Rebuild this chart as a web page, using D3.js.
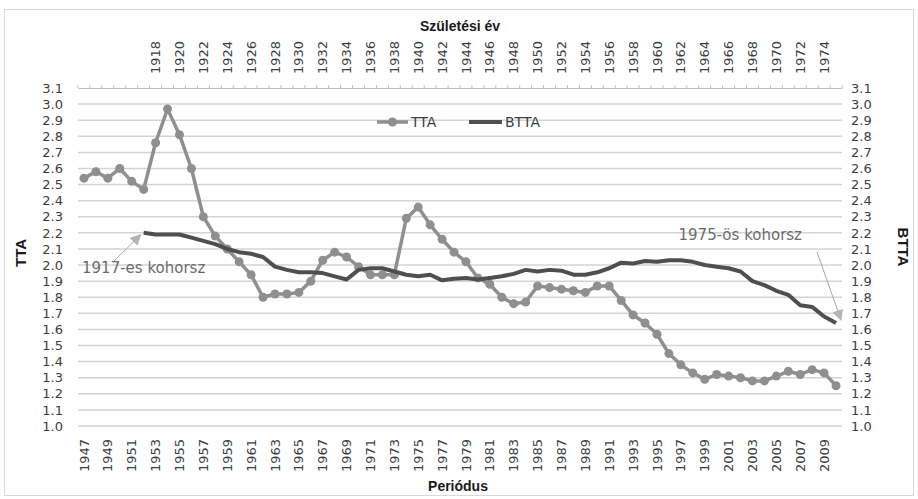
<!DOCTYPE html>
<html><head><meta charset="utf-8">
<script src="https://cdn.jsdelivr.net/npm/d3@7"></script>
<style>
html,body{margin:0;padding:0;background:#fff;}
svg{display:block;}
</style></head>
<body>
<svg id="chart" width="918" height="499"></svg>
<script>
// ---- data ----
const periods = d3.range(1947, 2011);
const tta = [2.54,2.58,2.54,2.60,2.52,2.47,2.76,2.97,2.81,2.60,
             2.30,2.18,2.10,2.02,1.94,1.80,1.82,1.82,1.83,1.90,
             2.03,2.08,2.05,1.99,1.94,1.94,1.94,2.29,2.36,2.25,
             2.16,2.08,2.02,1.92,1.88,1.80,1.76,1.77,1.87,1.86,
             1.85,1.84,1.83,1.87,1.87,1.78,1.69,1.64,1.57,1.45,
             1.38,1.33,1.29,1.32,1.31,1.30,1.28,1.28,1.31,1.34,
             1.32,1.35,1.33,1.25];
const btta = [null,null,null,null,null,
             2.20,2.19,2.19,2.19,2.17,2.15,2.13,2.10,2.08,2.07,
             2.05,1.99,1.97,1.955,1.955,1.95,1.93,1.91,1.97,1.98,
             1.98,1.96,1.94,1.93,1.94,1.905,1.915,1.92,1.91,1.92,
             1.93,1.945,1.97,1.96,1.97,1.965,1.94,1.94,1.955,1.98,
             2.015,2.01,2.025,2.02,2.03,2.03,2.02,2.00,1.99,1.98,
             1.96,1.90,1.875,1.84,1.815,1.75,1.74,1.68,1.64];
const cohortOffset = 35; // period - 35 = születési év
const yTicks = [1.0,1.1,1.2,1.3,1.4,1.5,1.6,1.7,1.8,1.9,2.0,2.1,2.2,2.3,2.4,2.5,2.6,2.7,2.8,2.9,3.0,3.1];
const bottomTickLabels = periods.filter((p,i)=>i%2===0);
const topTickLabels = periods.filter((p,i)=>i%2===0 && btta[i]!==null);
const seriesNames = ["TTA","BTTA"];

// ---- layout ----
const svg = d3.select("#chart");
const L = 78, R = 842, T = 88, B = 426;
const x = d3.scaleBand().domain(periods).range([L, R]);
const bw = x.bandwidth();
const cx = p => x(p) + bw/2;
const y = d3.scaleLinear().domain([1.0, 3.1]).range([B, T]);
const font = "'DejaVu Sans', Verdana, sans-serif";
const tickColor = "#3d3d3d";
const titleFont = "'Liberation Sans', Arial, sans-serif";

// border
svg.append("rect").attr("x",4.5).attr("y",9.5).attr("width",909).attr("height",486)
  .attr("fill","none").attr("stroke","#d9d9d9").attr("stroke-width",1);

// gridlines
svg.append("g").selectAll("line").data(yTicks.filter(v=>v<3.05)).join("line")
  .attr("x1",L).attr("x2",R).attr("y1",d=>y(d)).attr("y2",d=>y(d))
  .attr("stroke","#d4d4d4").attr("stroke-width",1.5);

// left axis
const gl = svg.append("g").attr("transform",`translate(${L},0)`)
  .call(d3.axisLeft(y).tickValues(yTicks).tickFormat(d3.format(".1f")).tickSize(0).tickPadding(15));
gl.select(".domain").remove();
gl.selectAll("text").attr("font-family",font).attr("font-size",13).attr("fill",tickColor);

// right axis
const gr = svg.append("g").attr("transform",`translate(${R},0)`)
  .call(d3.axisRight(y).tickValues(yTicks).tickFormat(d3.format(".1f")).tickSize(0).tickPadding(9));
gr.select(".domain").remove();
gr.selectAll("text").attr("font-family",font).attr("font-size",13).attr("fill",tickColor);

// bottom axis
const gb = svg.append("g").attr("transform",`translate(0,${B})`)
  .call(d3.axisBottom(x).tickValues(bottomTickLabels).tickSize(0));
gb.select(".domain").remove();
gb.selectAll("text").attr("font-family",font).attr("font-size",13).attr("fill",tickColor)
  .attr("transform","rotate(-90)").attr("text-anchor","end")
  .attr("x",-13).attr("y",0).attr("dy","0.35em");

// top axis
const gt = svg.append("g").attr("transform",`translate(0,${T})`)
  .call(d3.axisTop(x).tickValues(topTickLabels).tickFormat(p=>String(p-cohortOffset)).tickSize(0));
gt.select(".domain").attr("stroke","#bdbdbd").attr("stroke-width",1);
gt.selectAll("text").attr("font-family",font).attr("font-size",13).attr("fill",tickColor)
  .attr("transform","rotate(-90)").attr("text-anchor","start")
  .attr("x",14).attr("y",0).attr("dy","0.35em");
// top minor tick marks at category boundaries
const bounds = periods.map(p=>x(p)).concat([x(periods[periods.length-1])+bw]);
svg.append("g").selectAll("line").data(bounds).join("line")
  .attr("x1",d=>d).attr("x2",d=>d).attr("y1",T).attr("y2",T-3)
  .attr("stroke","#bdbdbd").attr("stroke-width",1);

// axis titles
svg.append("text").attr("x",460).attr("y",31).attr("text-anchor","middle")
  .attr("font-family",titleFont).attr("font-weight","bold").attr("font-size",14)
  .attr("fill","#1a1a1a").text("Születési év");
svg.append("text").attr("x",458).attr("y",491).attr("text-anchor","middle")
  .attr("font-family",titleFont).attr("font-weight","bold").attr("font-size",14)
  .attr("fill","#1a1a1a").text("Periódus");
svg.append("text").attr("transform","translate(26,253) rotate(-90)").attr("text-anchor","middle")
  .attr("font-family",titleFont).attr("font-weight","bold").attr("font-size",15)
  .attr("fill","#1a1a1a").text("TTA");
svg.append("text").attr("transform","translate(898,247) rotate(90)").attr("text-anchor","middle")
  .attr("font-family",titleFont).attr("font-weight","bold").attr("font-size",15)
  .attr("fill","#1a1a1a").text("BTTA");

// series
const ttaColor = "#8f8f8f", bttaColor = "#4f4f4f";
const line = d3.line().defined(d=>d.v!==null).x(d=>cx(d.p)).y(d=>y(d.v));
const ttaData = periods.map((p,i)=>({p, v:tta[i]}));
const bttaData = periods.map((p,i)=>({p, v:btta[i]}));

svg.append("path").datum(ttaData).attr("d",line).attr("fill","none")
  .attr("stroke",ttaColor).attr("stroke-width",3.5).attr("stroke-linejoin","round");
svg.append("g").selectAll("circle").data(ttaData).join("circle")
  .attr("cx",d=>cx(d.p)).attr("cy",d=>y(d.v)).attr("r",4.5).attr("fill",ttaColor);
svg.append("path").datum(bttaData).attr("d",line).attr("fill","none")
  .attr("stroke",bttaColor).attr("stroke-width",4).attr("stroke-linejoin","round");

// legend
const lg = svg.append("g");
lg.append("line").attr("x1",377).attr("x2",408).attr("y1",122).attr("y2",122)
  .attr("stroke",ttaColor).attr("stroke-width",3.5);
lg.append("circle").attr("cx",392.5).attr("cy",122).attr("r",4.5).attr("fill",ttaColor);
lg.append("text").attr("x",411).attr("y",122).attr("dy","0.35em")
  .attr("font-family",font).attr("font-size",14).attr("fill",tickColor).text(seriesNames[0]);
lg.append("line").attr("x1",469).attr("x2",502).attr("y1",122).attr("y2",122)
  .attr("stroke",bttaColor).attr("stroke-width",4);
lg.append("text").attr("x",505).attr("y",122).attr("dy","0.35em")
  .attr("font-family",font).attr("font-size",14).attr("fill",tickColor).text(seriesNames[1]);

// annotations
const defs = svg.append("defs");
defs.append("marker").attr("id","arr").attr("viewBox","0 0 10 10").attr("refX",9).attr("refY",5)
  .attr("markerWidth",11).attr("markerHeight",11).attr("markerUnits","userSpaceOnUse").attr("orient","auto")
  .append("path").attr("d","M0,0 L10,5 L0,10 Z").attr("fill","#b5b5b5");
svg.append("line").attr("x1",113).attr("y1",262).attr("x2",cx(1952)-3).attr("y2",y(2.20)+2)
  .attr("stroke","#a6a6a6").attr("stroke-width",1).attr("marker-end","url(#arr)");
svg.append("text").attr("x",82).attr("y",273)
  .attr("font-family",font).attr("font-size",15).attr("fill","#6b6b6b").text("1917-es kohorsz");
svg.append("line").attr("x1",817).attr("y1",252).attr("x2",cx(2010)+5).attr("y2",y(1.64)-3)
  .attr("stroke","#a6a6a6").attr("stroke-width",1).attr("marker-end","url(#arr)");
svg.append("text").attr("x",802).attr("y",240).attr("text-anchor","end")
  .attr("font-family",font).attr("font-size",15).attr("fill","#6b6b6b").text("1975-ös kohorsz");
</script>
</body></html>
